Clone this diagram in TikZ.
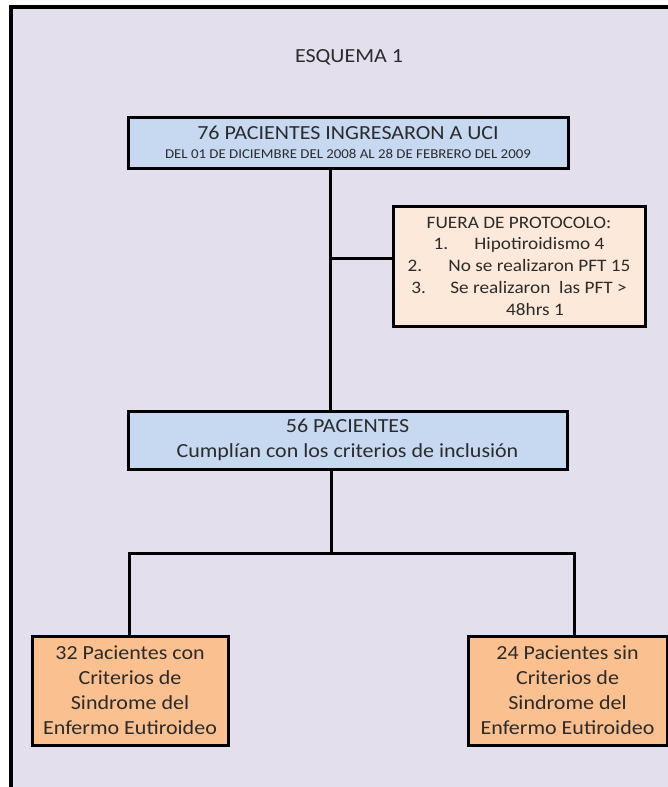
\documentclass[tikz,border=0pt]{standalone}
\usepackage{fontspec}
\setmainfont{Carlito}[FakeStretch=1.1]
\definecolor{fondo}{HTML}{E4DFEC}
\definecolor{azul}{HTML}{C6D9F1}
\definecolor{rosa}{HTML}{FDE9D9}
\definecolor{naranja}{HTML}{FAC090}
\definecolor{texto}{HTML}{2B2B2B}

\begin{document}
\begin{tikzpicture}[x=1pt, y=-1pt,
        caja/.style={draw=black, line width=3pt, text=texto, align=center, inner sep=0pt},
        linea/.style={line width=3pt}]
    \useasboundingbox (0,0) rectangle (668,787);
    \clip (0,0) rectangle (668,787);
    \fill[white] (0,0) rectangle (668,787);
    \draw[line width=3.5pt, fill=fondo] (11,7) rectangle (700,820);

    \node[text=texto, font={\fontsize{20}{24}\selectfont}] (titulo) at (349,57) {ESQUEMA 1};

    \node[caja, fill=azul, minimum width=440pt, minimum height=51pt,
          font={\fontsize{13.5}{19}\selectfont}] (ingreso) at (348,142.5)
        {{\fontsize{20}{19}\selectfont 76 PACIENTES INGRESARON A UCI}\\
         DEL 01 DE DICIEMBRE DEL 2008 AL 28 DE FEBRERO DEL 2009};
    \node[caja, fill=rosa, minimum width=252pt, minimum height=120pt,
          font={\fontsize{17.5}{21.7}\selectfont}] (fuera) at (519,266)
        {FUERA DE PROTOCOLO:\\
         1.\hspace{1.5em}Hipotiroidismo 4\\
         2.\hspace{1.5em}No se realizaron PFT 15\\
         3.\hspace{1.4em}Se realizaron\ \ las PFT >\\
         \hspace*{32pt}48hrs 1};
    \node[caja, fill=azul, minimum width=439pt, minimum height=58pt,
          font={\fontsize{20}{25}\selectfont}] (cumplen) at (347.5,440)
        {56 PACIENTES\\Cumplían con los criterios de inclusión};
    \node[caja, fill=naranja, minimum width=196pt, minimum height=109pt,
          font={\fontsize{20}{25}\selectfont}] (con) at (130,690.5)
        {32 Pacientes con\\Criterios de\\Sindrome del\\Enfermo Eutiroideo};
    \node[caja, fill=naranja, minimum width=199pt, minimum height=109pt,
          font={\fontsize{20}{25}\selectfont}] (sin) at (567.5,690.5)
        {24 Pacientes sin\\Criterios de\\Sindrome del\\Enfermo Eutiroideo};

    \coordinate (rama) at (330,258);
    \coordinate (centro) at (331,553);
    \coordinate (izq) at (129,553);
    \coordinate (der) at (574,553);

    \draw[linea] (ingreso.south -| rama) -- (cumplen.north -| rama);
    \draw[linea] (rama) -- (rama -| fuera.west);
    \draw[linea] (cumplen.south -| centro) -- (centro);
    \draw[linea] (izq |- con.north) -- (izq) -- (der) -- (der |- sin.north);
\end{tikzpicture}
\end{document}
